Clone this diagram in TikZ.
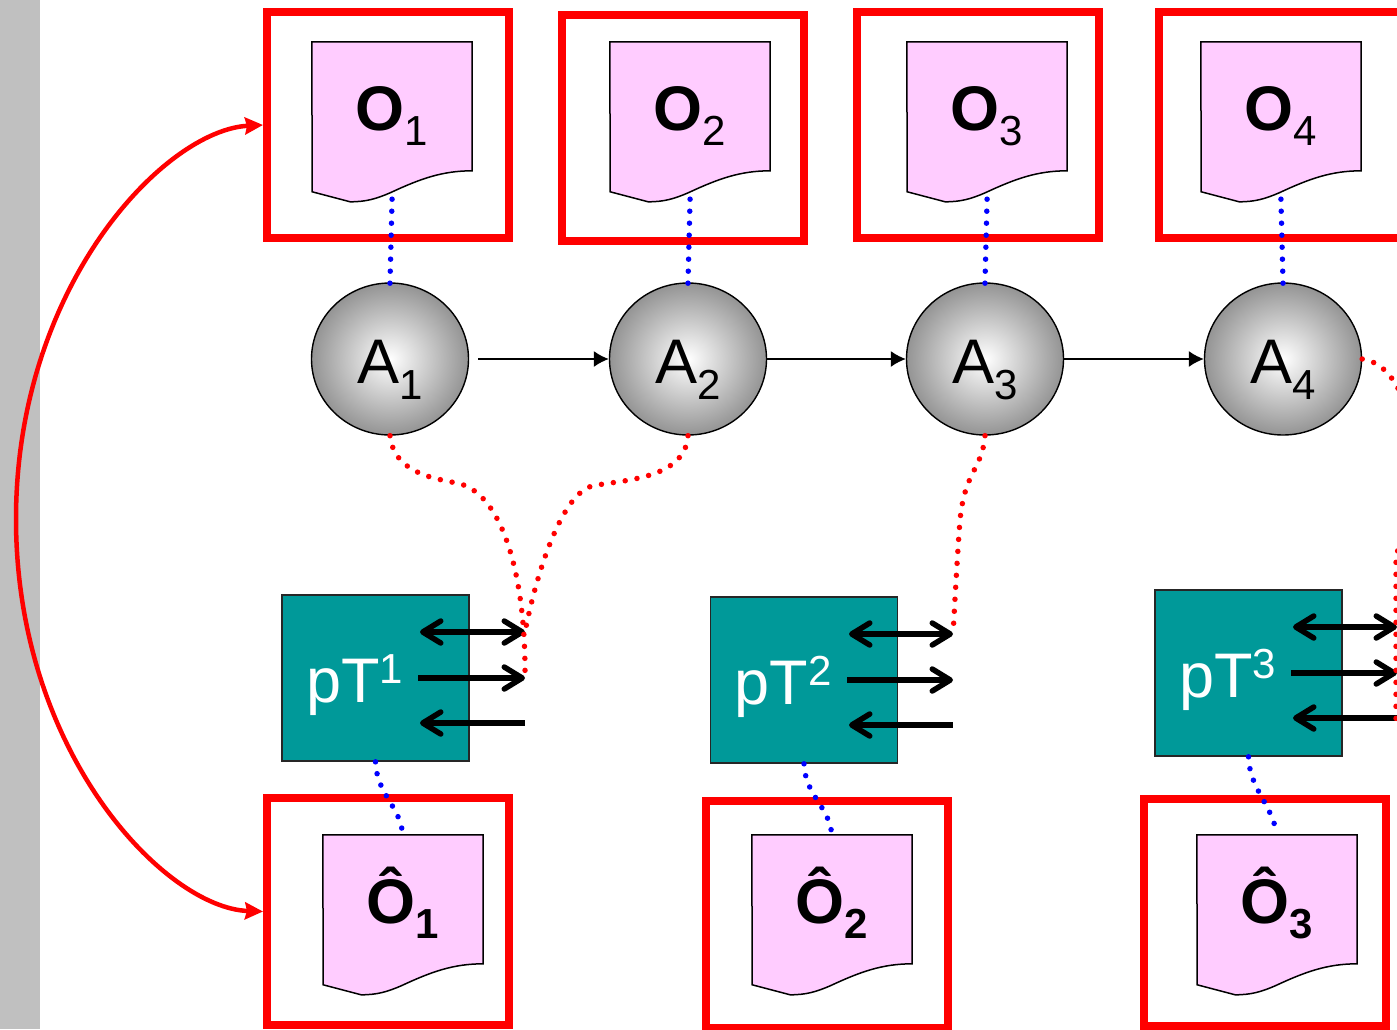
\documentclass[tikz,border=0pt]{standalone}
\usepackage{fontspec}
\setmainfont{Liberation Sans}
\usetikzlibrary{calc, positioning, shapes.geometric}
\usetikzlibrary{arrows.meta}

\definecolor{pagepink}{HTML}{FFCCFF}
\definecolor{boxteal}{HTML}{009999}
\definecolor{stripgray}{HTML}{C0C0C0}

\newcommand{\bigfont}{\fontsize{63}{63}\selectfont}
\newcommand{\subfont}{\fontsize{42}{42}\selectfont}

\tikzset{
  >={Straight Barb[length=18pt,width=22pt,round]},
  frame/.style={draw=red, line width=8pt, minimum width=242pt, minimum height=226pt, inner sep=0pt},
  pagebox/.style={minimum width=160pt, minimum height=160pt, inner sep=0pt},
  pagefill/.style={draw=black, line width=1.5pt, fill=pagepink},
  pagetext/.style={anchor=base, inner sep=0pt},
  ball/.style={ellipse, draw=black, line width=1.4pt, minimum width=157pt, minimum height=152pt, inner sep=0pt,
    shading=radial, inner color=white, outer color=black!42},
  ptbox/.style={draw=black!85, line width=1.6pt, fill=boxteal, minimum width=187pt, minimum height=166pt, inner sep=0pt},
  pttext/.style={anchor=base, inner sep=0pt, text=white},
  thin arrow/.style={-{Latex[length=15pt,width=16pt]}, line width=1.5pt},
  port/.style={line width=5.5pt},
  bluedots/.style={draw=blue, line width=5.5pt, line cap=round, dash pattern=on 0pt off 12pt},
  reddots/.style={draw=red, line width=5.5pt, line cap=round, dash pattern=on 0pt off 12pt},
  loopline/.style={draw=red, line width=4.5pt, {Stealth[length=18pt,width=17pt,inset=2pt]}-{Stealth[length=18pt,width=17pt,inset=2pt]}}
}

% page with a wavy foot, then its label on top
\newcommand{\pagedoc}[3]{
  \node (#1) [pagebox] at (#2) {};
  \draw[pagefill] (#1.north west) -- (#1.north east) -- ++(0,129)
    .. controls +(-30,0) and +(30,-14) .. ++(-82,22)
    .. controls +(-14,6) and +(16,0) .. ++(-40,9)
    -- ++(-38,-10) -- cycle;
  \node (#1text) [pagetext] at ([yshift=-8.5pt]#1.center) {#3};
}

\begin{document}
\begin{tikzpicture}[x=1pt, y=-1pt]
  \useasboundingbox (0,0) rectangle (1397,1029);
  \clip (0,0) rectangle (1397,1029);

  \fill[stripgray] (0,0) rectangle (40,1029);

  % top row
  \node (F1) [frame] at (388,125) {};
  \node (F2) [frame] at (683,128) {};
  \node (F3) [frame] at (977.5,125) {};
  \node (F4) [frame] at (1280,125) {};
  \pagedoc{O1}{392,122}{\bigfont\textbf{O}\raisebox{-15pt}{\subfont 1}}
  \pagedoc{O2}{690,122}{\bigfont\textbf{O}\raisebox{-15pt}{\subfont 2}}
  \pagedoc{O3}{987,122}{\bigfont\textbf{O}\raisebox{-15pt}{\subfont 3}}
  \pagedoc{O4}{1281,122}{\bigfont\textbf{O}\raisebox{-15pt}{\subfont 4}}

  % hidden states
  \node (A1) [ball] at (390,359) {};
  \node (A2) [ball] at (688,359) {};
  \node (A3) [ball] at (985,359) {};
  \node (A4) [ball] at (1283,359) {};
  \node (A1text) [pagetext] at ([yshift=-24pt]A1.center) {\bigfont A\raisebox{-16pt}{\subfont 1}};
  \node (A2text) [pagetext] at ([yshift=-24pt]A2.center) {\bigfont A\raisebox{-16pt}{\subfont 2}};
  \node (A3text) [pagetext] at ([yshift=-24pt]A3.center) {\bigfont A\raisebox{-16pt}{\subfont 3}};
  \node (A4text) [pagetext] at ([yshift=-24pt]A4.center) {\bigfont A\raisebox{-16pt}{\subfont 4}};

  \draw[thin arrow, shorten <=9pt] (A1) -- (A2);
  \draw[thin arrow] (A2) -- (A3);
  \draw[thin arrow] (A3) -- (A4);

  \draw[bluedots, shorten <=-3pt, shorten >=-2pt] (O1.south) -- (A1.north);
  \draw[bluedots, shorten <=-3pt, shorten >=-2pt] (O2.south) -- (A2.north);
  \draw[bluedots, shorten <=-3pt, shorten >=-2pt] (O3.south) -- (A3.north);
  \draw[bluedots, shorten <=-3pt, shorten >=-2pt] (O4.south) -- (A4.north);

  % teal boxes
  \node (pT1) [ptbox] at (375.5,678) {};
  \node (pT2) [ptbox] at (804,680) {};
  \node (pT3) [ptbox] at (1248.5,673) {};
  \node (pT1text) [pttext] at ([xshift=-21pt,yshift=-24pt]pT1.center) {\bigfont pT\raisebox{19pt}{\subfont 1}};
  \node (pT2text) [pttext] at ([xshift=-21pt,yshift=-24pt]pT2.center) {\bigfont pT\raisebox{19pt}{\subfont 2}};
  \node (pT3text) [pttext] at ([xshift=-21pt,yshift=-24pt]pT3.center) {\bigfont pT\raisebox{19pt}{\subfont 3}};

  \coordinate (a1) at (420,632);  \coordinate (b1) at (525,632);
  \coordinate (c1) at (418,678);  \coordinate (d1) at (525,678);
  \coordinate (e1) at (420,723);  \coordinate (f1) at (525,723);
  \coordinate (a2) at (849,634);  \coordinate (b2) at (953,634);
  \coordinate (c2) at (847,680);  \coordinate (d2) at (953,680);
  \coordinate (e2) at (849,725);  \coordinate (f2) at (953,725);
  \coordinate (a3) at (1293,627); \coordinate (b3) at (1397,627);
  \coordinate (c3) at (1291,673); \coordinate (d3) at (1397,673);
  \coordinate (e3) at (1293,718); \coordinate (f3) at (1397,718);

  \draw[port, <->] (a1) -- (b1);
  \draw[port, ->] (c1) -- (d1);
  \draw[port, <-] (e1) -- (f1);
  \draw[port, <->] (a2) -- (b2);
  \draw[port, ->] (c2) -- (d2);
  \draw[port, <-] (e2) -- (f2);
  \draw[port, <->] (a3) -- (b3);
  \draw[port, ->] (c3) -- (d3);
  \draw[port, <-] (e3) -- (f3);

  % bottom row
  \node (Fh1) [frame, minimum height=227pt] at (388,911.5) {};
  \node (Fh2) [frame, minimum height=227pt] at (826.5,914) {};
  \node (Fh3) [frame, minimum height=227pt] at (1265,912) {};
  \pagedoc{Oh1}{403,915}{\bigfont\textbf{Ô}\raisebox{-15pt}{\subfont\textbf{1}}}
  \pagedoc{Oh2}{832,915}{\bigfont\textbf{Ô}\raisebox{-15pt}{\subfont\textbf{2}}}
  \pagedoc{Oh3}{1277,915}{\bigfont\textbf{Ô}\raisebox{-15pt}{\subfont\textbf{3}}}

  \draw[bluedots, shorten >=5pt] (pT1.south) to[out=-88,in=100] (Oh1.north);
  \draw[bluedots, shorten >=5pt] (pT2.south) to[out=-88,in=100] (Oh2.north);
  \draw[bluedots] (pT3.south) to[out=-88,in=100] (Oh3.north);

  % dotted links to the arrows
  \draw[reddots] (A1.south) .. controls (394,475) and (440,479) .. (456,483)
    .. controls (500,490) and (526,570) .. (d1);
  \draw[reddots] (A2.south) .. controls (685,480) and (620,480) .. (592,486)
    .. controls (560,495) and (535,580) .. (b1);
  \draw[reddots] (A3.south) .. controls (982,470) and (965,470) .. (960,520)
    .. controls (957,560) and (955,600) .. (b2);
  \draw[reddots] (A4.east) .. controls (1425,368) and (1425,520) .. (1396,553) -- (1396,722);

  % feedback curve
  \coordinate (loopmid) at (16,519);
  \draw[loopline] (F1.west) .. controls (165,130) and (16,285) .. (loopmid)
    .. controls (16,753) and (165,908) .. (Fh1.west);
\end{tikzpicture}
\end{document}
